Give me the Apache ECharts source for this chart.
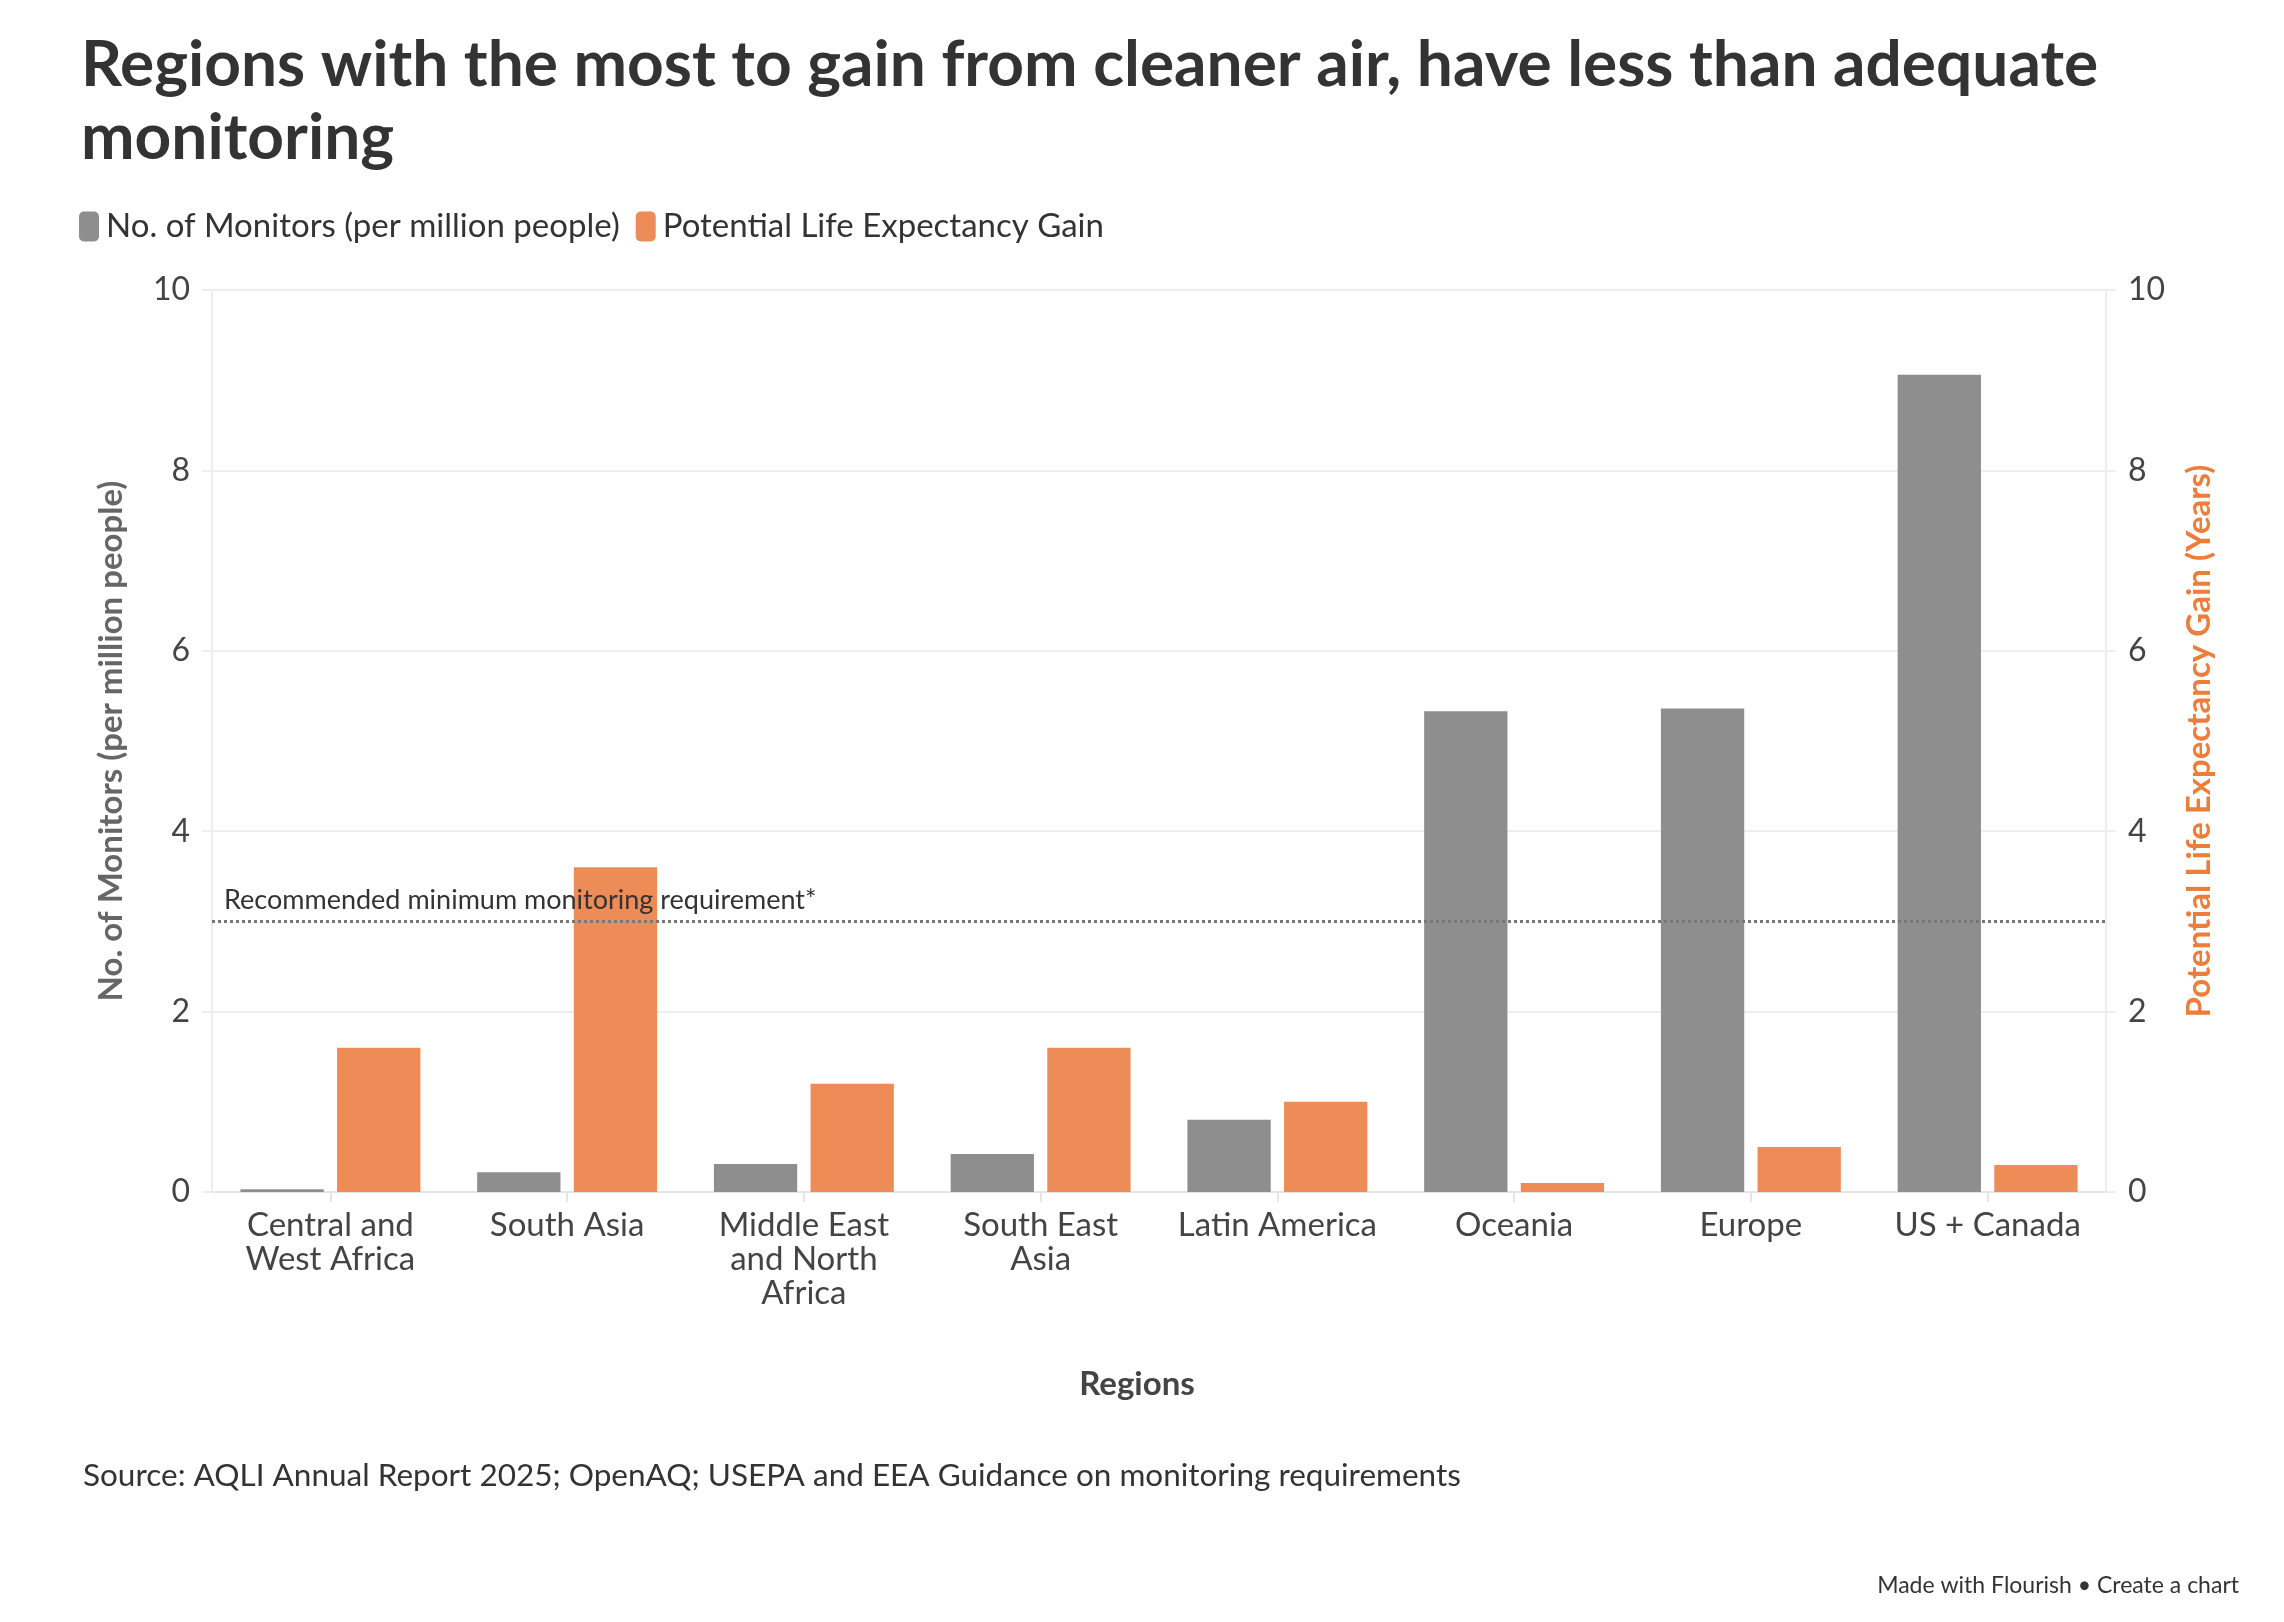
<!DOCTYPE html>
<html>
<head>
<meta charset="utf-8">
<script src="https://cdn.jsdelivr.net/npm/echarts@6/dist/echarts.min.js"></script>
<style>html,body{margin:0;padding:0;background:#fff;}#chart{width:2284px;height:1622px;}</style>
</head>
<body>
<div id="chart"></div>
<script>
const categories = ['Central and West Africa','South Asia','Middle East and North Africa','South East Asia','Latin America','Oceania','Europe','US + Canada'];
const tickLabels = ['Central and\nWest Africa','South Asia','Middle East\nand North\nAfrica','South East\nAsia','Latin America','Oceania','Europe','US + Canada'];
const monitors = [0.03, 0.22, 0.31, 0.42, 0.80, 5.33, 5.36, 9.06];
const lifeGain = [1.6, 3.6, 1.2, 1.6, 1.0, 0.1, 0.5, 0.3];
const yTicks = [0, 2, 4, 6, 8, 10];
const threshold = 3;

const FONT = 'Lato';
const chart = echarts.init(document.getElementById('chart'));
chart.setOption({
  backgroundColor: '#ffffff',
  textStyle: { fontFamily: FONT },
  title: [
    { text: 'Regions with the most to gain from cleaner air, have less than adequate\nmonitoring',
      left: 76, top: 24,
      textStyle: { fontFamily: FONT, fontWeight: 'bold', fontSize: 64, lineHeight: 73, color: '#333333' } },
    { text: 'Source: AQLI Annual Report 2025; OpenAQ; USEPA and EEA Guidance on monitoring requirements',
      left: 78, top: 1455,
      textStyle: { fontFamily: FONT, fontWeight: 'normal', fontSize: 31.5, color: '#333333' } },
    { text: 'Made with Flourish • Create a chart',
      right: 40, top: 1569,
      textStyle: { fontFamily: FONT, fontWeight: 'normal', fontSize: 23, color: '#333333' } }
  ],
  legend: {
    left: 74, top: 205,
    itemWidth: 20, itemHeight: 30, itemGap: 16,
    icon: 'roundRect',
    textStyle: { fontFamily: FONT, fontSize: 33, color: '#333333', padding: [0,0,0,2] },
    data: ['No. of Monitors (per million people)', 'Potential Life Expectancy Gain']
  },
  grid: { left: 212, right: 178, top: 290, bottom: 430, containLabel: false },
  xAxis: {
    type: 'category',
    data: categories,
    name: 'Regions', nameLocation: 'middle', nameGap: 176,
    nameTextStyle: { fontFamily: FONT, fontWeight: 'bold', fontSize: 33, color: '#444444', padding: [0, 44, 0, 0] },
    axisLine: { show: true, lineStyle: { color: '#e6e6e6', width: 2 } },
    axisTick: { show: true, alignWithLabel: true, length: 10, lineStyle: { color: '#e6e6e6', width: 2 } },
    axisLabel: {
      interval: 0,
      formatter: (v, i) => tickLabels[i],
      fontFamily: FONT, fontSize: 33, lineHeight: 34, color: '#444444', margin: 16
    }
  },
  yAxis: [
    { type: 'value', min: 0, max: 10, interval: 2,
      name: 'No. of Monitors (per million people)', nameLocation: 'middle', nameGap: 84,
      nameTextStyle: { fontFamily: FONT, fontWeight: 'bold', fontSize: 33, color: '#666666' },
      axisLine: { show: true, lineStyle: { color: '#eeeeee', width: 2 } },
      axisTick: { show: true, length: 10, lineStyle: { color: '#eeeeee', width: 2 } },
      axisLabel: { fontFamily: FONT, fontSize: 32, color: '#444444', margin: 22,
        formatter: v => yTicks.includes(v) ? String(v) : '' },
      splitLine: { lineStyle: { color: '#eeeeee', width: 2 } }
    },
    { type: 'value', min: 0, max: 10, interval: 2, position: 'right',
      name: 'Potential Life Expectancy Gain (Years)', nameLocation: 'middle', nameGap: 77,
      nameTextStyle: { fontFamily: FONT, fontWeight: 'bold', fontSize: 33, color: '#ED7D3A' },
      axisLine: { show: true, lineStyle: { color: '#eeeeee', width: 2 } },
      axisTick: { show: true, length: 10, lineStyle: { color: '#eeeeee', width: 2 } },
      axisLabel: { fontFamily: FONT, fontSize: 32, color: '#444444', margin: 22 },
      splitLine: { show: false }
    }
  ],
  series: [
    { name: 'No. of Monitors (per million people)', type: 'bar', yAxisIndex: 0,
      data: monitors, barCategoryGap: '24%', barGap: '16%',
      itemStyle: { color: '#8e8e8e' },
      markLine: {
        silent: true, symbol: 'none',
        lineStyle: { type: [3, 3], color: '#777777', width: 3 },
        label: { show: true, position: 'insideStartTop', formatter: 'Recommended minimum monitoring requirement*',
          fontFamily: FONT, fontSize: 27, color: '#333333', distance: [12, 8] },
        data: [{ yAxis: threshold }]
      },
      z: 2
    },
    { name: 'Potential Life Expectancy Gain', type: 'bar', yAxisIndex: 1,
      data: lifeGain, barCategoryGap: '24%', barGap: '16%',
      itemStyle: { color: '#EE8C58' }, z: 2
    }
  ]
});
</script>
</body>
</html>
